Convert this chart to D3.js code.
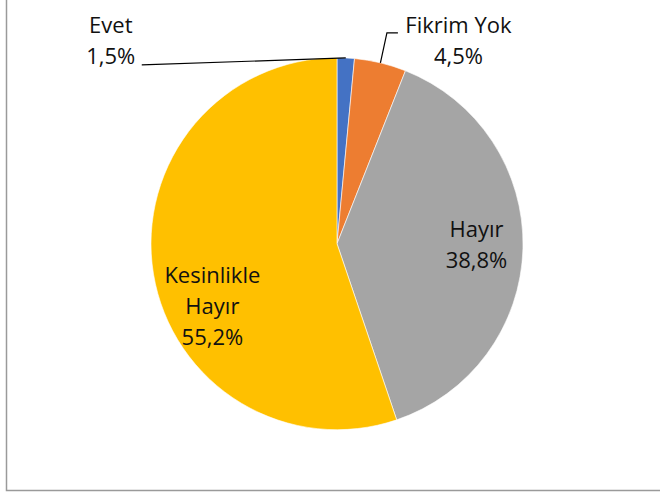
<!DOCTYPE html>
<html>
<head>
<meta charset="utf-8">
<script src="https://cdn.jsdelivr.net/npm/d3@7"></script>
<style>
  body { margin: 0; background: #fff; }
  text { font-family: "Open Sans", sans-serif; font-size: 22px; fill: #111; }
</style>
</head>
<body>
<div id="chart"></div>
<script>
// data
var categories = ["Evet", "Fikrim Yok", "Hayır", "Kesinlikle Hayır"];
var values = [1.5, 4.5, 38.8, 55.2];
var labelLines = [["Evet"], ["Fikrim Yok"], ["Hayır"], ["Kesinlikle", "Hayır"]];
var colors = ["#4472C4", "#ED7D31", "#A5A5A5", "#FFC000"];

var width = 660,
    height = 494,
    cx = 337,
    cy = 243.7,
    radius = 186,
    lineH = 31;

var svg = d3.select("#chart").append("svg")
    .attr("width", width)
    .attr("height", height);

// frame (left and bottom edges show in the picture)
svg.append("path")
    .attr("d", "M6.5,0V490.5H660")
    .attr("fill", "none")
    .attr("stroke", "#9a9a9a")
    .attr("stroke-width", 1.5);

var g = svg.append("g")
    .attr("transform", "translate(" + cx + "," + cy + ")");

var data = categories.map(function(c, i) {
    return {name: c, value: values[i], lines: labelLines[i], color: colors[i]};
});

var pie = d3.pie()
    .sort(null)
    .value(function(d) { return d.value; });

var arc = d3.arc().outerRadius(radius).innerRadius(0);
var edge = d3.arc().outerRadius(radius).innerRadius(radius);
var inner = d3.arc().outerRadius(radius * 0.75).innerRadius(radius * 0.75);

var arcs = pie(data);

g.selectAll(".slice")
    .data(arcs)
    .enter().append("path")
        .attr("class", "slice")
        .attr("d", arc)
        .attr("fill", function(d) { return d.data.color; })
        .attr("stroke", "#fff")
        .attr("stroke-width", 0.6);

function pct(v) { return d3.format(".1f")(v).replace(".", ",") + "%"; }

// label placement: inside labels nudged off the centroid, outside ones pulled out with a leader
var place = {
    "Evet":             {out: true, dx: -235, dy: -17, lead: function(p) { return [p, [p[0] - 204, p[1] + 7]]; }},
    "Fikrim Yok":       {out: true, dx: 78,   dy: -22, lead: function(p) { return [p, [p[0] + 6.5, p[1] - 30], [p[0] + 17.5, p[1] - 30]]; }},
    "Hayır":            {out: false, dx: 0,   dy: -2},
    "Kesinlikle Hayır": {out: false, dx: 13,  dy: 40}
};

arcs.forEach(function(d) {
    var cfg = place[d.data.name];
    var lines = d.data.lines.concat([pct(d.data.value)]);
    var p = cfg.out ? edge.centroid(d) : inner.centroid(d);
    var x = p[0] + cfg.dx,
        y = p[1] + cfg.dy;

    if (cfg.out) {
        g.append("path")
            .attr("d", d3.line()(cfg.lead(p)))
            .attr("fill", "none")
            .attr("stroke", "#000")
            .attr("stroke-width", 1.2);
    }

    var t = g.append("text")
        .attr("text-anchor", "middle")
        .attr("x", x)
        .attr("y", y - (lines.length - 1) * lineH / 2);

    t.selectAll("tspan")
        .data(lines)
        .enter().append("tspan")
            .attr("x", x)
            .attr("dy", function(l, i) { return i ? lineH : "0.35em"; })
            .text(function(l) { return l; });
});
</script>
</body>
</html>
